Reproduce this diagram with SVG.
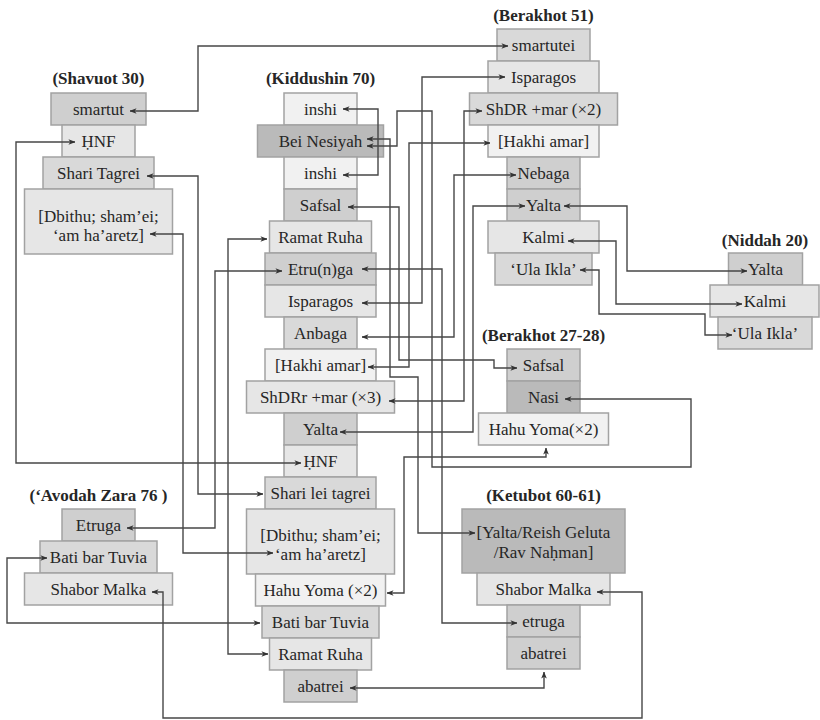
<svg xmlns="http://www.w3.org/2000/svg" width="820" height="720" viewBox="0 0 820 720">
<style>
.bx{stroke:#a2a2a2;stroke-width:1.5}
.k1{fill:#bababa}.k2{fill:#cfcfcf}.k3{fill:#d9d9d9}.k4{fill:#e6e6e6}.k5{fill:#f1f1f1}
text{font-family:"Liberation Serif","DejaVu Serif",serif;font-size:17px;fill:#262626;text-anchor:middle}
.ti{font-weight:bold}
.cn{fill:none;stroke:#474747;stroke-width:1.4;marker-start:url(#ah);marker-end:url(#ah)}
</style>
<defs>
<marker id="ah" viewBox="0 0 8 8" refX="7.5" refY="4" markerWidth="7" markerHeight="7" markerUnits="userSpaceOnUse" orient="auto-start-reverse">
<path d="M0,0.8 L8,4 L0,7.2 L2.2,4 z" fill="#333"/>
</marker>
</defs>
<rect width="820" height="720" fill="#fff"/>
<g id="titles">
<text class="ti" x="98.5" y="84">(Shavuot 30)</text>
<text class="ti" x="320.5" y="84">(Kiddushin 70)</text>
<text class="ti" x="543.5" y="21">(Berakhot 51)</text>
<text class="ti" x="765" y="246">(Niddah 20)</text>
<text class="ti" x="543.5" y="341">(Berakhot 27-28)</text>
<text class="ti" x="543.5" y="501">(Ketubot 60-61)</text>
<text class="ti" x="98.5" y="501">(‘Avodah Zara 76 )</text>
</g>
<!-- Shavuot 30 -->
<g id="shav-smartut"><rect class="bx k2" x="51" y="93" width="95" height="32"/><text x="98.5" y="114.5">smartut</text></g>
<g id="shav-hnf"><rect class="bx k4" x="62" y="125" width="73" height="32"/><text x="98.5" y="146.5">ḤNF</text></g>
<g id="shav-shari"><rect class="bx k3" x="43" y="157" width="111" height="32"/><text x="98.5" y="178.5">Shari Tagrei</text></g>
<g id="shav-dbithu"><rect class="bx k4" x="24.5" y="189" width="148" height="65"/><text x="98.5" y="222">[Dbithu; sham’ei;</text><text x="98.5" y="241">‘am ha’aretz]</text></g>
<!-- Kiddushin 70 -->
<g id="kid-inshi-1"><rect class="bx k5" x="284" y="93" width="73" height="32"/><text x="320.5" y="114.5">inshi</text></g>
<g id="kid-bei-nesiyah"><rect class="bx k1" x="257.5" y="125" width="126" height="32"/><text x="320.5" y="146.5">Bei Nesiyah</text></g>
<g id="kid-inshi-2"><rect class="bx k5" x="284" y="157" width="73" height="32"/><text x="320.5" y="178.5">inshi</text></g>
<g id="kid-safsal"><rect class="bx k2" x="284" y="189" width="73" height="32"/><text x="320.5" y="210.5">Safsal</text></g>
<g id="kid-ramat-ruha-1"><rect class="bx k4" x="269.5" y="221" width="102" height="32"/><text x="320.5" y="242.5">Ramat Ruha</text></g>
<g id="kid-etrunga"><rect class="bx k2" x="265" y="253" width="111" height="32"/><text x="320.5" y="274.5">Etru(n)ga</text></g>
<g id="kid-isparagos"><rect class="bx k4" x="265" y="285" width="111" height="32"/><text x="320.5" y="306.5">Isparagos</text></g>
<g id="kid-anbaga"><rect class="bx k3" x="284" y="317" width="73" height="32"/><text x="320.5" y="338.5">Anbaga</text></g>
<g id="kid-hakhi-amar"><rect class="bx k5" x="265" y="349" width="111" height="32"/><text x="320.5" y="370.5">[Hakhi amar]</text></g>
<g id="kid-shdrr"><rect class="bx k4" x="246.5" y="381" width="148" height="32"/><text x="320.5" y="402.5">ShDRr +mar (×3)</text></g>
<g id="kid-yalta"><rect class="bx k2" x="284" y="413" width="73" height="32"/><text x="320.5" y="434.5">Yalta</text></g>
<g id="kid-hnf"><rect class="bx k4" x="284" y="445" width="73" height="32"/><text x="320.5" y="466.5">ḤNF</text></g>
<g id="kid-shari-lei-tagrei"><rect class="bx k3" x="265" y="477" width="111" height="32"/><text x="320.5" y="498.5">Shari lei tagrei</text></g>
<g id="kid-dbithu"><rect class="bx k4" x="246.5" y="509" width="148" height="65"/><text x="320.5" y="541">[Dbithu; sham’ei;</text><text x="320.5" y="560">‘am ha’aretz]</text></g>
<g id="kid-hahu-yoma"><rect class="bx k5" x="255.5" y="574" width="130" height="32"/><text x="320.5" y="595.5">Hahu Yoma (×2)</text></g>
<g id="kid-bati"><rect class="bx k3" x="262" y="606" width="117" height="32"/><text x="320.5" y="627.5">Bati bar Tuvia</text></g>
<g id="kid-ramat-ruha-2"><rect class="bx k4" x="269.5" y="638" width="102" height="32"/><text x="320.5" y="659.5">Ramat Ruha</text></g>
<g id="kid-abatrei"><rect class="bx k2" x="284" y="670" width="73" height="32"/><text x="320.5" y="691.5">abatrei</text></g>
<!-- Berakhot 51 -->
<g id="b51-smartutei"><rect class="bx k3" x="497" y="29" width="93" height="32"/><text x="543.5" y="50.5">smartutei</text></g>
<g id="b51-isparagos"><rect class="bx k4" x="488" y="61" width="111" height="32"/><text x="543.5" y="82.5">Isparagos</text></g>
<g id="b51-shdr"><rect class="bx k3" x="469.5" y="93" width="148" height="32"/><text x="543.5" y="114.5">ShDR +mar (×2)</text></g>
<g id="b51-hakhi-amar"><rect class="bx k5" x="488" y="125" width="111" height="32"/><text x="543.5" y="146.5">[Hakhi amar]</text></g>
<g id="b51-nebaga"><rect class="bx k2" x="507" y="157" width="73" height="32"/><text x="543.5" y="178.5">Nebaga</text></g>
<g id="b51-yalta"><rect class="bx k2" x="507" y="189" width="73" height="32"/><text x="543.5" y="210.5">Yalta</text></g>
<g id="b51-kalmi"><rect class="bx k4" x="488" y="221" width="111" height="32"/><text x="543.5" y="242.5">Kalmi</text></g>
<g id="b51-ula-ikla"><rect class="bx k3" x="495" y="253" width="97" height="32"/><text x="543.5" y="274.5">‘Ula Ikla’</text></g>
<!-- Niddah 20 -->
<g id="nid-yalta"><rect class="bx k2" x="728.5" y="253" width="74" height="32"/><text x="765.5" y="274.5">Yalta</text></g>
<g id="nid-kalmi"><rect class="bx k4" x="710" y="285" width="109" height="32"/><text x="765" y="306.5">Kalmi</text></g>
<g id="nid-ula-ikla"><rect class="bx k3" x="718" y="317" width="94" height="32"/><text x="765" y="338.5">‘Ula Ikla’</text></g>
<!-- Berakhot 27-28 -->
<g id="b27-safsal"><rect class="bx k2" x="507" y="349" width="73" height="32"/><text x="543.5" y="370.5">Safsal</text></g>
<g id="b27-nasi"><rect class="bx k1" x="507" y="381" width="73" height="32"/><text x="543.5" y="402.5">Nasi</text></g>
<g id="b27-hahu-yoma"><rect class="bx k5" x="478.5" y="413" width="130" height="32"/><text x="543.5" y="434.5">Hahu Yoma(×2)</text></g>
<!-- Ketubot 60-61 -->
<g id="ket-yalta-reish-geluta"><rect class="bx k1" x="462" y="509" width="163" height="64"/><text x="543.5" y="538">[Yalta/Reish Geluta</text><text x="543.5" y="558">/Rav Naḥman]</text></g>
<g id="ket-shabor-malka"><rect class="bx k4" x="477" y="573" width="133" height="32"/><text x="543.5" y="594.5">Shabor Malka</text></g>
<g id="ket-etruga"><rect class="bx k2" x="507" y="605" width="73" height="32"/><text x="543.5" y="626.5">etruga</text></g>
<g id="ket-abatrei"><rect class="bx k2" x="507" y="637" width="73" height="32"/><text x="543.5" y="658.5">abatrei</text></g>
<!-- Avodah Zara 76 -->
<g id="az-etruga"><rect class="bx k2" x="62" y="509" width="73" height="32"/><text x="98.5" y="530.5">Etruga</text></g>
<g id="az-bati"><rect class="bx k3" x="40" y="541" width="117" height="32"/><text x="98.5" y="562.5">Bati bar Tuvia</text></g>
<g id="az-shabor-malka"><rect class="bx k4" x="24.5" y="573" width="148" height="32"/><text x="98.5" y="594.5">Shabor Malka</text></g>
<g id="connectors">
<polyline class="cn" points="130,111 198,111 198,46 508,46"/>
<polyline class="cn" points="75,142 16,142 16,463 301,463"/>
<polyline class="cn" points="147,176 198,176 198,494 263,494"/>
<polyline class="cn" points="150,234 183,234 183,553 273,553"/>
<polyline class="cn" points="343,109 378,109 378,175 343,175"/>
<polyline class="cn" points="367,139 390,139 390,377 418,377 418,533 475,533"/>
<polyline class="cn" points="367,146 397,146 397,111 432,111 432,467 691,467 691,399 565,399"/>
<polyline class="cn" points="348,207 399,207 399,360 494,360 494,368 517,368"/>
<polyline class="cn" points="267,239 228,239 228,654 268,654"/>
<polyline class="cn" points="282,271 215,271 215,528 127,528"/>
<polyline class="cn" points="362,269 442,269 442,623 517,623"/>
<polyline class="cn" points="362,303 422,303 422,77 505,77"/>
<polyline class="cn" points="362,337 454,337 454,175 516,175"/>
<polyline class="cn" points="368,367 409,367 409,143 490,143"/>
<polyline class="cn" points="389,401 464,401 464,111 482,111"/>
<polyline class="cn" points="340,432 473,432 473,206 525,206"/>
<polyline class="cn" points="387,593 404,593 404,457 546,457 546,448"/>
<polyline class="cn" points="47,558 7,558 7,623 260,623"/>
<polyline class="cn" points="350,688 544,688 544,672"/>
<polyline class="cn" points="152,592 163,592 163,718 642,718 642,592 597,592"/>
<polyline class="cn" points="564,206 627,206 627,271 747,271"/>
<polyline class="cn" points="568,241 616,241 616,304 742,304"/>
<polyline class="cn" points="580,270 599,270 599,314 705,314 705,335 732,335"/>
</g>
</svg>
